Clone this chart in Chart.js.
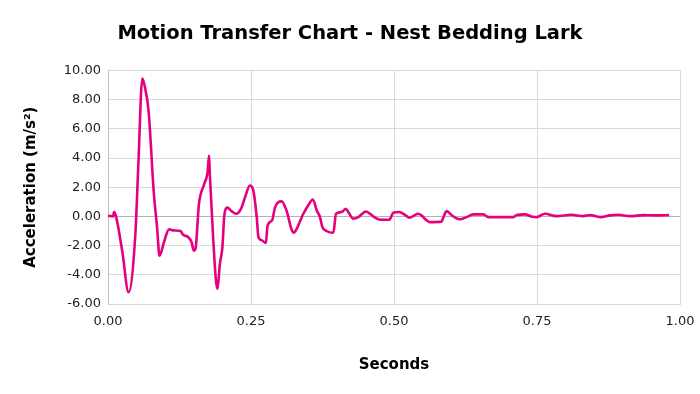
<!DOCTYPE html>
<html>
<head>
<meta charset="utf-8">
<script src="https://cdn.jsdelivr.net/npm/chart.js@4"></script>
<style>
  html, body { margin: 0; padding: 0; background: #fff; }
  #wrap { width: 700px; height: 394px; position: relative; }
</style>
</head>
<body>
<div id="wrap"><canvas id="c"></canvas></div>
<script>
const chartTitle = "Motion Transfer Chart - Nest Bedding Lark";
const xAxisTitle = "Seconds";
const yAxisTitle = "Acceleration (m/s²)";

const seconds = [
  0.000, 0.009, 0.0105, 0.014, 0.025, 0.036, 0.048, 0.053, 0.060, 0.064,
  0.071, 0.080, 0.086, 0.090, 0.098, 0.1066, 0.115, 0.127, 0.131, 0.140,
  0.146, 0.150, 0.153, 0.159, 0.168, 0.174, 0.1766, 0.178, 0.184, 0.191,
  0.1958, 0.200, 0.2034, 0.2086, 0.216, 0.224, 0.2325, 0.2407, 0.248, 0.254,
  0.260, 0.263, 0.269, 0.276, 0.279, 0.287, 0.292, 0.3036, 0.312, 0.321,
  0.325, 0.330, 0.3415, 0.350, 0.358, 0.365, 0.3706, 0.3747, 0.382, 0.394,
  0.3986, 0.4085, 0.416, 0.420, 0.429, 0.4376, 0.451, 0.458, 0.4668, 0.4767,
  0.4918, 0.4988, 0.509, 0.519, 0.5268, 0.5425, 0.548, 0.557, 0.563, 0.583,
  0.586, 0.592, 0.601, 0.615, 0.627, 0.6387, 0.656, 0.665, 0.7086, 0.7145,
  0.729, 0.740, 0.7495, 0.764, 0.784, 0.810, 0.831, 0.843, 0.860, 0.8776,
  0.892, 0.9126, 0.936, 0.959, 0.981
];
const acceleration = [
  0.05, 0.00, 0.30, 0.00, -2.40, -5.20, -1.10, 3.50, 9.45, 8.96,
  7.20, 1.66, -0.84, -2.70, -1.75, -0.89, -0.96, -1.00, -1.25, -1.41,
  -1.75, -2.35, -2.20, 0.85, 2.20, 3.00, 4.17, 2.90, -1.60, -4.95,
  -3.20, -2.10, 0.07, 0.60, 0.36, 0.18, 0.52, 1.44, 2.12, 1.78,
  -0.05, -1.41, -1.64, -1.82, -0.62, -0.27, 0.62, 1.03, 0.41, -0.90,
  -1.12, -0.84, 0.18, 0.75, 1.16, 0.41, -0.05, -0.73, -1.00, -1.12,
  0.18, 0.30, 0.52, 0.30, -0.16, -0.05, 0.34, 0.18, -0.09, -0.23,
  -0.23, 0.25, 0.30, 0.11, -0.09, 0.18, 0.07, -0.27, -0.39, -0.36,
  -0.10, 0.36, 0.07, -0.20, -0.05, 0.14, 0.14, -0.05, -0.05, 0.09,
  0.14, 0.00, -0.05, 0.18, 0.02, 0.11, 0.02, 0.09, -0.05, 0.07,
  0.11, 0.02, 0.09, 0.07, 0.09
];
const xTicks = [0, 0.25, 0.5, 0.75, 1.0];
const yTicks = [-6, -4, -2, 0, 2, 4, 6, 8, 10];

const points = seconds.map((t, i) => ({ x: t, y: acceleration[i] }));
const FONT = "'DejaVu Sans', Verdana, sans-serif";

new Chart(document.getElementById('c'), {
  type: 'line',
  data: {
    datasets: [{
      data: points,
      borderColor: '#e6007e',
      borderWidth: 2.6,
      pointRadius: 0,
      fill: false,
      cubicInterpolationMode: 'monotone'
    }]
  },
  options: {
    responsive: true,
    maintainAspectRatio: false,
    animation: false,
    layout: { padding: { top: 0, left: 15, right: 15, bottom: 16 } },
    plugins: {
      legend: { display: false },
      tooltip: { enabled: false },
      title: {
        display: true,
        text: chartTitle,
        color: '#000',
        font: { family: FONT, size: 19.5, weight: 'bold' },
        padding: { top: 22, bottom: 25 }
      }
    },
    scales: {
      x: {
        type: 'linear',
        min: xTicks[0],
        max: xTicks[xTicks.length - 1],
        afterBuildTicks: (s) => { s.ticks = xTicks.map(v => ({ value: v })); },
        afterFit: (s) => { s.height = 74; s.paddingLeft = 0; s.paddingRight = 20; },
        ticks: {
          color: '#222',
          font: { family: FONT, size: 13 },
          padding: 10,
          callback: (v) => Number(v).toFixed(2)
        },
        grid: { color: '#d9d9d9', drawTicks: false, lineWidth: 1 },
        border: { color: '#d9d9d9' },
        title: {
          display: true,
          text: xAxisTitle,
          color: '#000',
          font: { family: FONT, size: 15, weight: 'bold' },
          padding: { top: 26, bottom: 4 }
        }
      },
      y: {
        type: 'linear',
        min: yTicks[0],
        max: yTicks[yTicks.length - 1],
        afterBuildTicks: (s) => { s.ticks = yTicks.map(v => ({ value: v })); },
        afterFit: (s) => { s.width = 93; },
        ticks: {
          color: '#222',
          font: { family: FONT, size: 13 },
          padding: 7,
          callback: (v) => Number(v).toFixed(2)
        },
        grid: {
          color: (ctx) => (ctx.tick && ctx.tick.value === 0) ? '#b3b3b3' : '#d9d9d9',
          drawTicks: false,
          lineWidth: 1
        },
        border: { color: '#bfbfbf' },
        title: {
          display: true,
          text: yAxisTitle,
          color: '#000',
          font: { family: FONT, size: 15, weight: 'bold' },
          padding: { top: 7, bottom: 4 }
        }
      }
    }
  }
});
</script>
</body>
</html>
